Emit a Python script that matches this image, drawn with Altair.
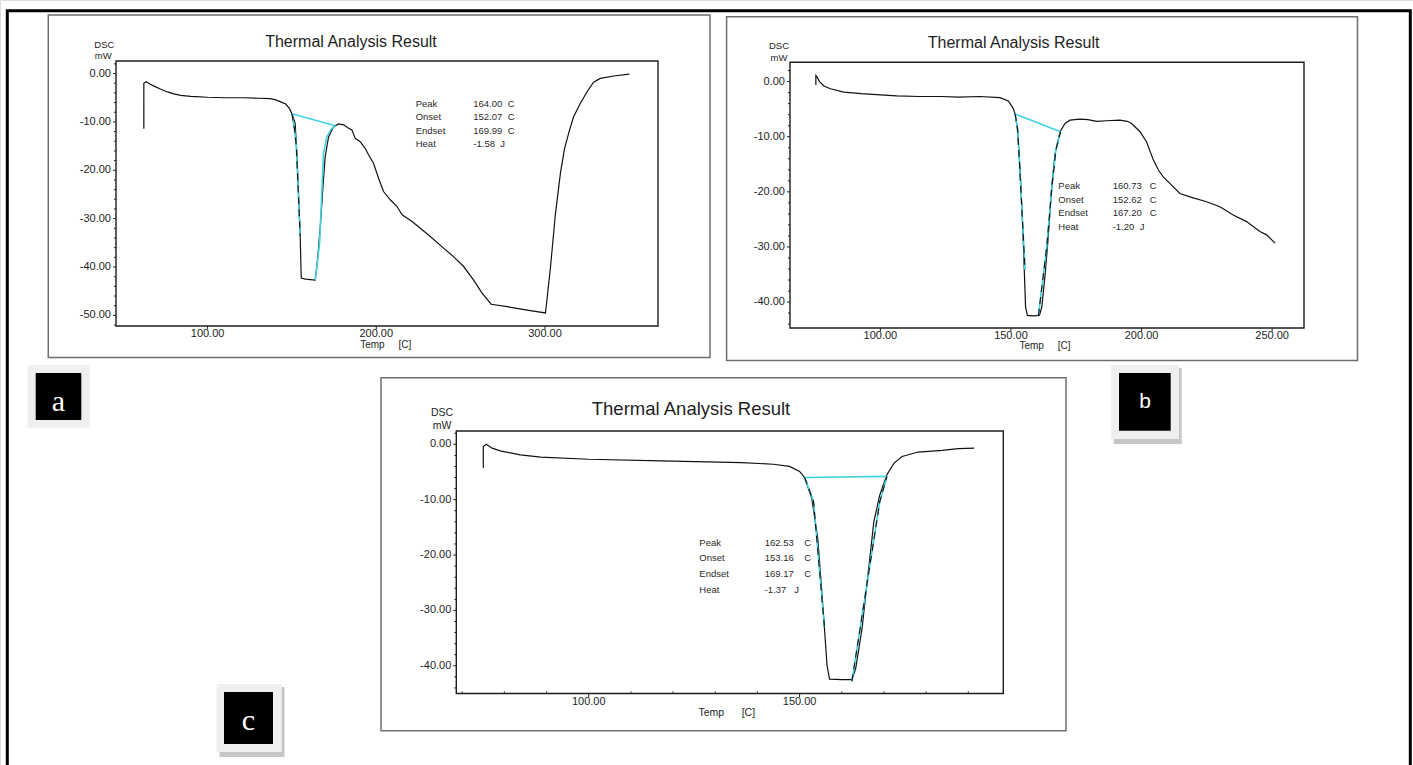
import altair as alt
import pandas as pd

W, H = 1413, 765
CYAN = "#40d2e2"
INK = "#1e1e1e"
NB = "\u00a0"

# ---------------- data : panel a ----------------
a_T = [62.2, 62.2, 63.5, 66.0, 68.3, 72.0, 76.2, 80.0, 84.1, 90.0, 100.0, 110.0, 121.0, 130.0,
       137.0, 140.0, 143.0, 146.3, 148.5, 150.0, 151.9, 152.9, 153.9, 154.9, 155.5, 158.0, 161.0,
       163.8, 165.2, 166.8, 168.4, 169.7, 171.7, 174.7, 177.6, 180.6, 183.6, 185.6, 187.5, 190.5,
       193.5, 195.4, 198.4, 201.4, 204.3, 208.3, 212.3, 215.3, 221.2, 226.1, 232.0, 239.9, 245.9,
       251.8, 257.7, 262.7, 268.1, 277.6, 289.4, 300.3, 303.3, 306.2, 309.2, 311.6, 314.3, 316.9,
       320.9, 324.9, 328.8, 332.8, 340.7, 350.0]
a_V = [-11.4, -2.0, -1.7, -2.2, -2.6, -3.2, -3.8, -4.2, -4.5, -4.7, -4.9, -5.0, -5.0, -5.1,
       -5.2, -5.4, -5.8, -6.3, -7.2, -8.3, -10.3, -16.5, -24.8, -33.7, -42.3, -42.5, -42.6,
       -42.7, -38.5, -31.7, -23.4, -17.2, -13.1, -11.0, -10.4, -10.6, -11.3, -11.7, -13.4, -14.1,
       -15.5, -16.8, -18.6, -21.7, -24.4, -26.1, -27.5, -29.2, -30.6, -32.0, -33.7, -36.1, -37.9,
       -39.9, -42.7, -45.4, -47.7, -48.2, -48.9, -49.5, -39.9, -29.0, -20.5, -15.5, -12.0, -9.0,
       -6.2, -3.8, -1.8, -1.0, -0.5, -0.1]
a_base_T, a_base_V = [150.0, 175.7], [-8.3, -10.8]
a_left_T, a_left_V = [150.0, 151.5, 152.6, 154.9], [-8.3, -11.5, -15.0, -33.7]
a_right_T, a_right_V = [163.8, 166.4, 168.7, 170.7, 173.0, 175.7], [-42.7, -35.1, -16.5, -13.1, -11.6, -10.8]
a_stats = ["164.00", "152.07", "169.99", "-1.58"]

# ---------------- data : panel b ----------------
b_T = [75.3, 75.3, 75.7, 76.7, 78.4, 80.9, 86.0, 92.7, 100.0, 106.3, 115.0, 123.2, 130.0, 138.0,
       145.8, 149.0, 150.9, 151.6, 152.4, 153.5, 154.5, 155.1, 155.6, 156.3, 158.5, 160.9, 161.8,
       163.0, 164.3, 165.6, 166.9, 168.8, 170.7, 172.6, 176.4, 179.5, 182.8, 186.6, 191.7, 194.5,
       196.2, 199.4, 201.9, 204.5, 206.4, 208.3, 210.9, 214.7, 218.5, 224.9, 230.0, 235.1, 240.2,
       245.3, 247.9, 251.1]
b_V = [-0.6, 1.1, 0.9, 0.0, -0.8, -1.3, -1.9, -2.2, -2.4, -2.6, -2.7, -2.7, -2.8, -2.7,
       -2.9, -3.5, -4.9, -5.9, -8.2, -16.0, -26.3, -34.2, -40.9, -42.4, -42.5, -42.4, -40.9,
       -35.4, -28.1, -19.1, -13.0, -9.1, -7.6, -7.0, -6.8, -6.9, -7.2, -7.1, -7.0, -7.2,
       -7.6, -9.1, -10.9, -14.2, -16.0, -17.3, -18.5, -20.3, -20.9, -21.8, -22.7, -24.2, -25.4,
       -27.2, -27.8, -29.3]
b_base_T, b_base_V = [151.6, 169.0], [-5.9, -9.1]
b_left_T, b_left_V = [151.6, 152.6, 155.4], [-5.9, -8.8, -34.2]
b_right_T, b_right_V = [160.5, 163.7, 165.6, 167.2, 169.0], [-42.5, -30.0, -19.5, -12.4, -9.1]
b_stats = ["160.73", "152.62", "167.20", "-1.20"]

# ---------------- data : panel c ----------------
c_T = [75.0, 75.0, 75.7, 77.1, 79.0, 83.8, 88.6, 100.0, 117.1, 136.2, 143.8, 147.6, 150.0, 151.2,
       152.9, 154.3, 155.2, 155.9, 156.5, 157.1, 160.0, 162.4, 163.3, 164.8, 166.2, 167.6, 169.0,
       170.7, 172.4, 174.3, 178.1, 183.8, 187.6, 191.4]
c_V = [-4.3, -0.4, 0.0, -0.7, -1.2, -1.9, -2.3, -2.7, -3.0, -3.3, -3.6, -4.0, -4.9, -6.0,
       -9.8, -17.0, -26.0, -33.3, -39.9, -42.4, -42.5, -42.5, -40.5, -33.3, -23.6, -14.0, -9.2,
       -5.5, -3.4, -2.2, -1.4, -1.1, -0.8, -0.7]
c_base_T, c_base_V = [151.2, 170.7], [-6.0, -5.8]
c_left_T, c_left_V = [151.2, 153.3, 155.9], [-6.0, -10.3, -33.0]
c_right_T, c_right_V = [162.4, 169.0, 170.7], [-42.8, -10.4, -5.8]
c_stats = ["162.53", "153.16", "169.17", "-1.37"]

stat_names = ["Peak", "Onset", "Endset", "Heat"]
stat_units = ["C", "C", "C", "J"]
title_text = "Thermal Analysis Result"

# tick values
a_xticks = [100, 200, 300]
b_xticks = [100, 150, 200, 250]
c_xticks = list(range(70, 200, 10))
a_yticks = list(range(-52, 3, 2))
b_yticks = list(range(-44, 3, 2))
c_yticks = list(range(-44, 3, 2))

FONT = "Liberation Sans"


def tick_frame(values, step):
    df = pd.DataFrame({"v": values})
    df["major"] = [v % step == 0 for v in values]
    df["lab"] = [f"{v:.2f}" for v in values]
    return df


def panel(T, V, segs, dash_keys, xdom, xrng, ydom, yrng, xticks, xmajor, yticks):
    xs = alt.Scale(domain=xdom, range=xrng, nice=False, zero=False)
    ys = alt.Scale(domain=ydom, range=yrng, nice=False, zero=False)
    left, bottom = xrng[0], yrng[0]
    X = lambda f: alt.X(f, scale=xs, axis=None)
    Y = lambda f: alt.Y(f, scale=ys, axis=None)

    curve_df = pd.DataFrame({"T": T, "V": V, "i": list(range(len(T)))})
    rows = []
    for name, (st, sv) in segs.items():
        for k, (t, v) in enumerate(zip(st, sv)):
            rows.append({"T": t, "V": v, "i": k, "seg": name})
    cyan_df = pd.DataFrame(rows)
    dash_df = cyan_df[cyan_df["seg"].isin(dash_keys)]

    curve = alt.Chart(curve_df).mark_line(color="#111111", strokeWidth=1.2).encode(
        x=X("T:Q"), y=Y("V:Q"), order="i:Q")
    cyan = alt.Chart(cyan_df).mark_line(color=CYAN, strokeWidth=1.6).encode(
        x=X("T:Q"), y=Y("V:Q"), detail="seg:N", order="i:Q")
    dash = alt.Chart(dash_df).mark_line(color="#111111", strokeWidth=1.1, strokeDash=[7, 5]).encode(
        x=X("T:Q"), y=Y("V:Q"), detail="seg:N", order="i:Q")

    # axes built from the panel's own scales
    xt = tick_frame(xticks, xmajor)
    yt = tick_frame(yticks, 10)
    xmaj = alt.Chart(xt[xt["major"]]).mark_rule(color=INK, strokeWidth=1).encode(
        x=X("v:Q"), y=alt.value(bottom), y2=alt.value(bottom + 3.5))
    xmin = alt.Chart(xt[~xt["major"]]).mark_rule(color=INK, strokeWidth=1).encode(
        x=X("v:Q"), y=alt.value(bottom - 2), y2=alt.value(bottom))
    xlab = alt.Chart(xt[xt["major"]]).mark_text(
        align="center", baseline="top", font=FONT, fontSize=11, color=INK).encode(
        x=X("v:Q"), y=alt.value(bottom + 2), text="lab:N")
    ymaj = alt.Chart(yt[yt["major"]]).mark_rule(color=INK, strokeWidth=1).encode(
        y=Y("v:Q"), x=alt.value(left - 3), x2=alt.value(left))
    ymin = alt.Chart(yt[~yt["major"]]).mark_rule(color=INK, strokeWidth=1).encode(
        y=Y("v:Q"), x=alt.value(left - 2), x2=alt.value(left))
    ylab = alt.Chart(yt[yt["major"]]).mark_text(
        align="right", baseline="middle", font=FONT, fontSize=11, color=INK).encode(
        y=Y("v:Q"), x=alt.value(left - 5), text="lab:N")
    return alt.layer(curve, cyan, dash, xmaj, xmin, xlab, ymaj, ymin, ylab)


pa = panel(a_T, a_V,
           {"base": (a_base_T, a_base_V), "left": (a_left_T, a_left_V), "right": (a_right_T, a_right_V)},
           ["left"], [45.7, 367.0], [116, 658], [-52.2, 2.6], [326, 61],
           a_xticks, 100, a_yticks)
pb = panel(b_T, b_V,
           {"base": (b_base_T, b_base_V), "left": (b_left_T, b_left_V), "right": (b_right_T, b_right_V)},
           ["left", "right"], [65.4, 262.2], [790, 1304], [-44.7, 3.5], [328, 62.3],
           b_xticks, 50, b_yticks)
pc = panel(c_T, c_V,
           {"base": (c_base_T, c_base_V), "left": (c_left_T, c_left_V), "right": (c_right_T, c_right_V)},
           ["left", "right"], [68.6, 198.3], [456.3, 1003.3], [-45.0, 2.4], [693.5, 431],
           c_xticks, 50, c_yticks)

# ---------------- layout (frames, boxes, texts) ----------------
RECTS = [
    # outer border
    dict(x=7.3, x2=1410.3, y=10.7, y2=790, fill="transparent", stroke="#000000", sw=3),
    # panel frames
    dict(x=48.3, x2=710, y=15, y2=357.5, fill="transparent", stroke="#6e6e6e", sw=1.5),
    dict(x=726.6, x2=1357.5, y=16.7, y2=360.5, fill="transparent", stroke="#6e6e6e", sw=1.5),
    dict(x=381, x2=1066, y=377.7, y2=730.7, fill="transparent", stroke="#6e6e6e", sw=1.5),
    # plot boxes
    dict(x=116, x2=658, y=61, y2=326, fill="transparent", stroke=INK, sw=1.4),
    dict(x=790, x2=1304, y=62.3, y2=328, fill="transparent", stroke=INK, sw=1.4),
    dict(x=456.3, x2=1003.3, y=431, y2=693.5, fill="transparent", stroke=INK, sw=1.4),
    # label box a
    dict(x=27.7, x2=89.7, y=365, y2=427.7, fill="#efefef", stroke="transparent", sw=0),
    dict(x=35.7, x2=81.3, y=373, y2=420, fill="#000000", stroke="transparent", sw=0),
    # label box b
    dict(x=1113.7, x2=1181.7, y=368, y2=444, fill="#c6c6c6", stroke="transparent", sw=0),
    dict(x=1111, x2=1179, y=365, y2=439, fill="#efefef", stroke="transparent", sw=0),
    dict(x=1119, x2=1170.7, y=373, y2=430.7, fill="#000000", stroke="transparent", sw=0),
    # label box c
    dict(x=219.5, x2=284.5, y=687, y2=757, fill="#c6c6c6", stroke="transparent", sw=0),
    dict(x=216.7, x2=281.7, y=684, y2=752, fill="#efefef", stroke="transparent", sw=0),
    dict(x=224, x2=273, y=692, y2=744, fill="#000000", stroke="transparent", sw=0),
]
rects = alt.Chart(pd.DataFrame(RECTS)).mark_rect().encode(
    x=alt.X("x:Q", scale=None, axis=None), x2="x2:Q",
    y=alt.Y("y:Q", scale=None, axis=None), y2="y2:Q",
    fill=alt.Fill("fill:N", scale=None),
    stroke=alt.Stroke("stroke:N", scale=None),
    strokeWidth=alt.StrokeWidth("sw:Q", scale=None),
)

temp_a = "Temp" + NB * 5 + "[C]"
temp_c = "Temp" + NB * 6 + "[C]"
CENTER_TEXT = [
    dict(t=title_text, x=351, y=46.5, s=16),
    dict(t=title_text, x=1013.6, y=48.2, s=16),
    dict(t=title_text, x=691, y=415, s=18.5),
    dict(t="DSC", x=104.4, y=47.7, s=9.5), dict(t="mW", x=103.2, y=59.3, s=9.5),
    dict(t="DSC", x=779, y=49.3, s=9.5), dict(t="mW", x=779, y=60.7, s=9.5),
    dict(t="DSC", x=442, y=415.7, s=10.5), dict(t="mW", x=442, y=429, s=10.5),
    dict(t=temp_a, x=385.7, y=347.5, s=10),
    dict(t=temp_a, x=1045, y=349, s=10),
    dict(t=temp_c, x=726.8, y=716, s=10.5),
]
center_txt = alt.Chart(pd.DataFrame(CENTER_TEXT)).mark_text(
    align="center", baseline="alphabetic", font=FONT, color=INK
).encode(
    x=alt.X("x:Q", scale=None, axis=None), y=alt.Y("y:Q", scale=None, axis=None),
    text="t:N", size=alt.Size("s:Q", scale=None),
)

STAT_POS = [
    # label x, value x, first baseline, row step, unit gap, heat unit gap
    (415.7, 473.3, 106.5, 13.5, 2, 2),
    (1058.3, 1112.7, 189.0, 13.7, 3, 2),
    (699.3, 764.7, 545.5, 15.9, 4, 3),
]
stat_rows = []
for (lx, vx, y0, dy, gap, hgap), vals in zip(STAT_POS, [a_stats, b_stats, c_stats]):
    for r, (nm, v, u) in enumerate(zip(stat_names, vals, stat_units)):
        g = hgap if u == "J" else gap
        stat_rows.append(dict(t=nm, x=lx, y=y0 + r * dy))
        stat_rows.append(dict(t=v + NB * g + u, x=vx, y=y0 + r * dy))
stats_txt = alt.Chart(pd.DataFrame(stat_rows)).mark_text(
    align="left", baseline="alphabetic", font=FONT, fontSize=9.5, color="#2a2a2a"
).encode(
    x=alt.X("x:Q", scale=None, axis=None), y=alt.Y("y:Q", scale=None, axis=None), text="t:N",
)

SERIF_LETTERS = [dict(t="a", x=58.5, y=410.7), dict(t="c", x=248.5, y=730)]
serif_txt = alt.Chart(pd.DataFrame(SERIF_LETTERS)).mark_text(
    align="center", baseline="alphabetic", font="Liberation Serif", fontSize=30, color="white"
).encode(
    x=alt.X("x:Q", scale=None, axis=None), y=alt.Y("y:Q", scale=None, axis=None), text="t:N",
)
SANS_LETTERS = [dict(t="b", x=1145, y=408)]
sans_txt = alt.Chart(pd.DataFrame(SANS_LETTERS)).mark_text(
    align="center", baseline="alphabetic", font=FONT, fontSize=21, color="white"
).encode(
    x=alt.X("x:Q", scale=None, axis=None), y=alt.Y("y:Q", scale=None, axis=None), text="t:N",
)

chart = alt.layer(
    rects, pa, pb, pc, center_txt, stats_txt, serif_txt, sans_txt
).resolve_scale(
    x="independent", y="independent"
).properties(
    width=W, height=H, autosize=alt.AutoSizeParams(type="none"), padding=0
).configure_view(stroke=None).configure(background="white")

chart.save("out.html", embed_options={"renderer": "svg", "actions": False})
